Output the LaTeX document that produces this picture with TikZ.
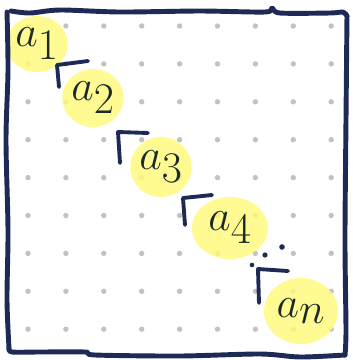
\documentclass[tikz,border=0pt]{standalone}
\usepackage{tikz}
\usetikzlibrary{
  positioning,
  shapes.geometric
}
\usepackage{amsmath,amssymb}
\usepackage{xcolor}
\definecolor{frame}{HTML}{1E2A56}
\definecolor{marker}{HTML}{FFF97E}
\definecolor{ink}{HTML}{1B2A28}
\definecolor{grid}{HTML}{C2C2C2}

\begin{document}
\begin{tikzpicture}[
  x=0.02cm, y=-0.02cm,
  blob/.style={ellipse, fill=marker, fill opacity=0.85, text opacity=1, inner sep=0pt,
               text=ink, font=\fontsize{36}{36}\selectfont},
  corner/.style={draw=frame, line width=2.2pt, line cap=round, line join=round},
  pen/.style={draw=frame, line width=2.8pt, line cap=round, line join=round},
]
  \useasboundingbox (0,0) rectangle (353,360);

  % dotted paper
  \foreach \i in {0,...,8}
    \foreach \j in {0,...,8}
      \fill[grid] ({28+37.9*\i},{26+37.9*\j}) circle (2.7);

  % highlighted diagonal entries
  \node[blob, minimum width=1.1cm, minimum height=1.12cm] (a1) at (37, 44) {$a_1$};
  \node[blob, minimum width=1.12cm, minimum height=1.16cm] (a2) at (93, 98) {$a_2$};
  \node[blob, minimum width=1.08cm, minimum height=1.2cm] (a3) at (161, 167) {$a_3$};
  \node[blob, minimum width=1.52cm, minimum height=1.24cm] (a4) at (230, 228) {$a_4$};
  \node[blob, minimum width=1.48cm, minimum height=1.32cm] (an) at (301, 311) {$a_n$};

  % block corners
  \draw[corner] (88,61) -- (57,65) -- (59,87);
  \draw[corner] (148,133) -- (118,132) -- (120,163);
  \draw[corner] (212,195) -- (183,198) -- (185,225);
  \draw[corner] (288,271) -- (258,269) -- (259,303);

  % dots between a_4 and a_n
  \fill[frame] (252,265) circle (2.3);
  \fill[frame] (265,255) circle (2.6);
  \fill[frame] (282,247) circle (2.8);

  % hand drawn frame
  \draw[pen] plot[smooth] coordinates {(11,11) (30,13) (60,10) (120,12) (200,11)
    (265,12) (272,8) (280,13) (330,13) (343,12) (347,16)};
  \draw[pen] plot[smooth] coordinates {(347,16) (346,120) (345,240) (346,330) (345,355)};
  \draw[pen] plot[smooth] coordinates {(7,12) (8,70) (6,140) (8,230) (7,300) (9,348)};
  \draw[pen] plot[smooth] coordinates {(9,348) (12,352) (40,352) (85,352) (95,355)
    (180,356) (260,354) (300,357) (345,355)};
\end{tikzpicture}
\end{document}
